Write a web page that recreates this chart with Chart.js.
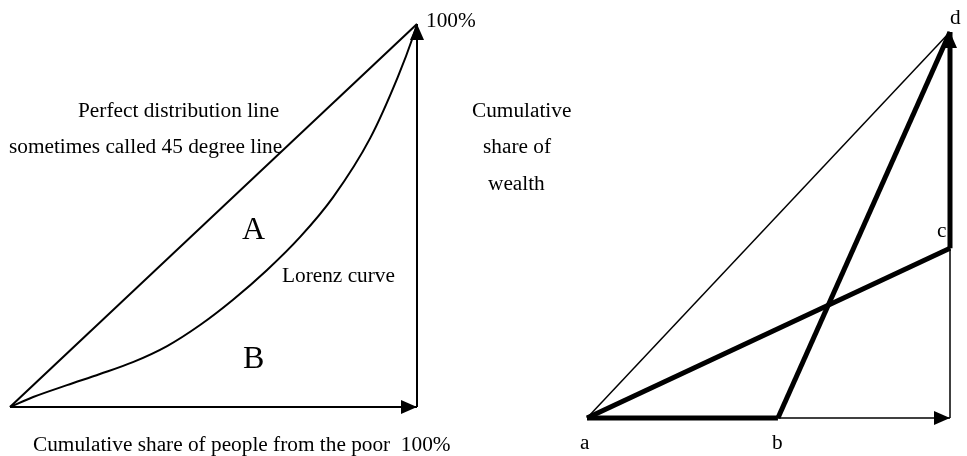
<!DOCTYPE html>
<html>
<head>
<meta charset="utf-8">
<script src="https://cdn.jsdelivr.net/npm/chart.js@4/dist/chart.umd.min.js"></script>
<style>
  html, body { margin: 0; padding: 0; background: #fff; }
  #wrap { position: relative; width: 967px; height: 456px; overflow: hidden; }
  .panel { position: absolute; top: 0; height: 456px; }
  #leftPanel { left: 0; width: 480px; }
  #rightPanel { left: 480px; width: 487px; }
  .lbl {
    position: absolute; font-family: "Liberation Serif", "Times New Roman", serif;
    font-size: 21.3px; line-height: 1; color: #000; white-space: pre;
  }
  .big { font-size: 32px; }
</style>
</head>
<body>
<div id="wrap">
  <div class="panel" id="leftPanel"><canvas id="lorenzChart"></canvas></div>
  <div class="panel" id="rightPanel"><canvas id="shareChart"></canvas></div>

  <div class="lbl" style="left:426px; top:10px">100%</div>
  <div class="lbl" style="left:78px; top:100.2px">Perfect distribution line</div>
  <div class="lbl" style="left:9px; top:136.2px">sometimes called 45 degree line</div>
  <div class="lbl big" style="left:242px; top:212.2px">A</div>
  <div class="lbl big" style="left:243px; top:341.2px">B</div>
  <div class="lbl" style="left:282px; top:265.2px">Lorenz curve</div>
  <div class="lbl" style="left:33px; top:434.2px">Cumulative share of people from the poor  100%</div>

  <div class="lbl" style="left:472px; top:100.2px">Cumulative</div>
  <div class="lbl" style="left:483px; top:136.2px">share of</div>
  <div class="lbl" style="left:488px; top:173.2px">wealth</div>
  <div class="lbl" style="left:580px; top:432.2px">a</div>
  <div class="lbl" style="left:772px; top:432.2px">b</div>
  <div class="lbl" style="left:937px; top:220.2px">c</div>
  <div class="lbl" style="left:950px; top:7.2px">d</div>
</div>

<script>
// Curva de Lorenz (fração acumulada de pessoas x fração acumulada de riqueza)
const lorenzX = [0, 0.057, 0.140, 0.221, 0.302, 0.386, 0.467, 0.548, 0.631, 0.713, 0.794, 0.885, 0.953, 0.990, 1];
const lorenzY = [0, 0.026, 0.057, 0.086, 0.117, 0.159, 0.214, 0.280, 0.357, 0.444, 0.548, 0.702, 0.862, 0.966, 1];

// Linha de igualdade perfeita (45 graus)
const equalityX = [0, 1];
const equalityY = [0, 1];

// Pontos do segundo diagrama (e = canto inferior direito)
const pointNames = ['a', 'b', 'c', 'd', 'e'];
const pointX = [0, 0.526, 1, 1, 1];
const pointY = [0, 0, 0.44, 1, 0];

function pts(xs, ys) {
  return xs.map((x, i) => ({ x: x, y: ys[i] }));
}
function seg(from, to) {
  const i = pointNames.indexOf(from), j = pointNames.indexOf(to);
  return [{ x: pointX[i], y: pointY[i] }, { x: pointX[j], y: pointY[j] }];
}

function linha(data, width, extra) {
  return Object.assign({
    data: data,
    showLine: true,
    borderColor: '#000',
    backgroundColor: '#000',
    borderWidth: width,
    pointRadius: 0,
    pointHoverRadius: 0,
    fill: false,
    clip: false
  }, extra || {});
}

// Desenha a ponta de seta no último ponto dos datasets marcados com arrow
const setas = {
  id: 'setas',
  afterDatasetsDraw(chart) {
    const ctx = chart.ctx;
    chart.data.datasets.forEach((ds, i) => {
      if (!ds.arrow) return;
      const el = chart.getDatasetMeta(i).data;
      const p1 = el[el.length - 2], p2 = el[el.length - 1];
      const ang = Math.atan2(p2.y - p1.y, p2.x - p1.x);
      const len = 16, half = 7;
      ctx.save();
      ctx.translate(p2.x, p2.y);
      ctx.rotate(ang);
      ctx.beginPath();
      ctx.moveTo(0, 0);
      ctx.lineTo(-len, -half);
      ctx.lineTo(-len, half);
      ctx.closePath();
      ctx.fillStyle = '#000';
      ctx.fill();
      ctx.restore();
    });
  }
};

function opcoes(pad) {
  return {
    responsive: true,
    maintainAspectRatio: false,
    animation: false,
    layout: { padding: pad },
    scales: {
      x: { type: 'linear', min: 0, max: 1, display: false },
      y: { type: 'linear', min: 0, max: 1, display: false }
    },
    plugins: { legend: { display: false }, tooltip: { enabled: false } },
    elements: { line: { borderCapStyle: 'butt', borderJoinStyle: 'miter' } }
  };
}

// Diagrama da esquerda: curva de Lorenz
new Chart(document.getElementById('lorenzChart'), {
  type: 'scatter',
  data: {
    datasets: [
      linha(pts(equalityX, equalityY), 2),
      linha(pts(lorenzX, lorenzY), 2, { cubicInterpolationMode: 'monotone' }),
      linha(pts([0, 1], [0, 0]), 2, { arrow: true }),
      linha(pts([1, 1], [0, 1]), 2, { arrow: true })
    ]
  },
  options: opcoes({ left: 10, right: 63, top: 24, bottom: 49 }),
  plugins: [setas]
});

// Diagrama da direita
new Chart(document.getElementById('shareChart'), {
  type: 'scatter',
  data: {
    datasets: [
      linha(seg('a', 'd'), 1.5),
      linha(seg('b', 'e'), 1.5, { arrow: true }),
      linha(seg('e', 'c'), 1.5),
      linha(seg('a', 'b'), 5),
      linha(seg('b', 'd'), 5),
      linha(seg('a', 'c'), 5),
      linha(seg('c', 'd'), 5, { arrow: true })
    ]
  },
  options: opcoes({ left: 107, right: 17, top: 32, bottom: 38 }),
  plugins: [setas]
});
</script>
</body>
</html>
